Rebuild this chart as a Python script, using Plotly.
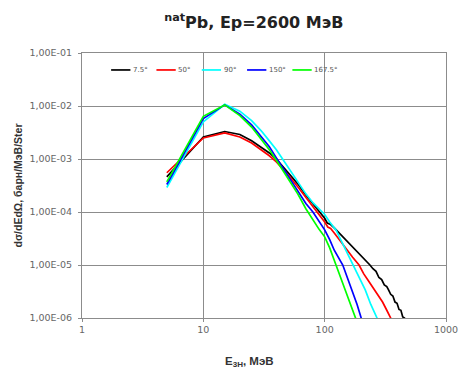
import plotly.graph_objects as go

# Energy spectra of 3H from natPb, Ep = 2600 MeV, at five emission angles
angle_labels = ["7.5°", "50°", "90°", "150°", "167.5°"]
line_colors = ["#000000", "#ff0000", "#00ffff", "#0000ff", "#00ff00"]

e_7_5 = [5, 10, 15, 20, 25, 30, 35, 40, 50, 60, 70, 80, 90, 100, 105, 112, 120, 135, 150,
         165, 180, 200, 218, 236, 250, 265, 280, 295, 310, 325, 336, 350, 365, 380, 395,
         410, 425, 440, 455, 470]
y_7_5 = [4.6e-4, 2.6e-3, 3.3e-3, 2.9e-3, 2.2e-3, 1.65e-3, 1.3e-3, 1.0e-3, 5.6e-4, 3.4e-4,
         2.1e-4, 1.45e-4, 1.0e-4, 7.6e-5, 6.2e-5, 5.8e-5, 5.0e-5, 3.8e-5, 2.9e-5,
         2.3e-5, 1.9e-5, 1.5e-5, 1.25e-5, 1.0e-5, 8.5e-6, 7.6e-6, 5.8e-6, 5.3e-6, 4.2e-6,
         3.9e-6, 3.4e-6, 2.8e-6, 2.6e-6, 2.0e-6, 1.9e-6, 1.45e-6, 1.4e-6, 1.05e-6, 1.0e-6, 7e-7]

e_50 = [5, 10, 15, 20, 25, 30, 35, 40, 50, 60, 70, 80, 90, 100, 106, 112, 120, 135, 150,
        170, 192, 210, 230, 259, 280, 300, 325, 350, 370]
y_50 = [5.5e-4, 2.5e-3, 3.1e-3, 2.6e-3, 2.0e-3, 1.5e-3, 1.15e-3, 8.8e-4, 5.0e-4, 3.0e-4,
        1.9e-4, 1.3e-4, 9.0e-5, 6.5e-5, 5.2e-5, 4.9e-5, 4.0e-5, 2.8e-5, 2.0e-5,
        1.4e-5, 1.0e-5, 6.8e-6, 5.0e-6, 3.4e-6, 2.6e-6, 2.0e-6, 1.4e-6, 1.0e-6, 7e-7]

e_90 = [5, 10, 15, 20, 25, 30, 35, 40, 45, 50, 60, 70, 80, 90, 100, 110, 124, 140, 155,
        173, 195, 216, 240, 270, 290]
y_90 = [2.9e-4, 5.0e-3, 1.08e-2, 8.0e-3, 5.3e-3, 3.4e-3, 2.2e-3, 1.5e-3, 1.0e-3, 7.0e-4,
        3.6e-4, 2.2e-4, 1.5e-4, 1.15e-4, 9.0e-5, 6.5e-5, 4.6e-5, 2.6e-5, 1.6e-5,
        1.0e-5, 5.5e-6, 3.4e-6, 1.8e-6, 1.0e-6, 6e-7]

e_150 = [5, 10, 15, 20, 25, 30, 35, 40, 50, 60, 70, 80, 90, 100, 110, 120, 141, 155, 167,
         185, 200, 215]
y_150 = [3.3e-4, 5.8e-3, 1.05e-2, 7.0e-3, 4.4e-3, 2.7e-3, 1.7e-3, 1.05e-3, 4.8e-4, 2.5e-4,
         1.45e-4, 1.0e-4, 6.5e-5, 4.6e-5, 3.0e-5, 1.9e-5, 1.0e-5, 5.5e-6, 3.4e-6,
         1.8e-6, 1.0e-6, 6e-7]

e_167_5 = [5, 10, 15, 20, 25, 30, 35, 40, 50, 60, 70, 80, 90, 100, 110, 124, 135, 149,
           165, 182, 195]
y_167_5 = [3.7e-4, 6.4e-3, 1.05e-2, 6.6e-3, 4.0e-3, 2.4e-3, 1.5e-3, 9.5e-4, 4.2e-4, 2.2e-4,
           1.15e-4, 7.0e-5, 4.7e-5, 3.4e-5, 2.1e-5, 1.0e-5, 6.0e-6, 3.4e-6,
           1.8e-6, 1.0e-6, 6e-7]

series_e = [e_7_5, e_50, e_90, e_150, e_167_5]
series_y = [y_7_5, y_50, y_90, y_150, y_167_5]

y_tick_vals = [1e-6, 1e-5, 1e-4, 1e-3, 1e-2, 1e-1]
y_tick_text = ["1,00E-06", "1,00E-05", "1,00E-04", "1,00E-03", "1,00E-02", "1,00E-01"]
x_tick_vals = [1, 10, 100, 1000]
x_tick_text = ["1", "10", "100", "1000"]

wide_font = "DejaVu Sans, Verdana, sans-serif"
fig = go.Figure()
for name, color, xs, ys in zip(angle_labels, line_colors, series_e, series_y):
    fig.add_trace(go.Scatter(x=xs, y=ys, mode="lines", name=name, showlegend=False,
                             line=dict(color=color, width=1.7)))

# Compact one-row key across the top of the plot area (paper coordinates)
key_x0, key_step, key_len, key_y = 0.08, 0.1245, 0.053, 0.936
for i, (name, color) in enumerate(zip(angle_labels, line_colors)):
    x0 = key_x0 + i * key_step
    fig.add_shape(type="line", xref="paper", yref="paper",
                  x0=x0, x1=x0 + key_len, y0=key_y, y1=key_y,
                  line=dict(color=color, width=1.7))
    fig.add_annotation(xref="paper", yref="paper", x=x0 + key_len + 0.002, y=key_y,
                       text=name, showarrow=False, xanchor="left", yanchor="middle",
                       font=dict(family=wide_font, size=7, color="#555555"))

# x-axis caption
fig.add_annotation(xref="paper", yref="paper", x=0.46, y=-0.166,
                   text="<b>E<sub>3H</sub>, МэВ</b>", showarrow=False,
                   xanchor="center", yanchor="middle",
                   font=dict(size=11.5, color="#333333"))

grid_color = "#8c8c8c"
fig.update_layout(
    width=470, height=372,
    margin=dict(l=82, r=14, t=53, b=54),
    paper_bgcolor="white", plot_bgcolor="white",
    font=dict(family="Arial, Liberation Sans, sans-serif", color="#333333"),
    title=dict(text="<b><sup>nat</sup>Pb, Ep=2600 МэВ</b>", x=0.54, xanchor="center",
               y=0.94, yanchor="middle",
               font=dict(family=wide_font, size=16, color="#222222")),
    xaxis=dict(type="log", range=[0, 3], tickvals=x_tick_vals, ticktext=x_tick_text,
               showgrid=True, gridcolor=grid_color, gridwidth=1,
               showline=True, linecolor=grid_color, linewidth=1, mirror=True,
               ticks="outside", ticklen=3, tickcolor=grid_color,
               ticklabeloverflow="allow",
               tickfont=dict(family=wide_font, size=9.5, color="#666666"), zeroline=False),
    yaxis=dict(type="log", range=[-6, -1], tickvals=y_tick_vals, ticktext=y_tick_text,
               showgrid=True, gridcolor=grid_color, gridwidth=1,
               showline=True, linecolor=grid_color, linewidth=1, mirror=True,
               ticks="outside", ticklen=3, tickcolor=grid_color,
               ticklabelstandoff=4,
               tickfont=dict(family=wide_font, size=9.5, color="#666666"), zeroline=False,
               title=dict(text="<b>dσ/dEdΩ, барн/МэВ/Ster</b>", standoff=4,
                          font=dict(size=10.5, color="#333333"))),
)

fig.write_html("out.html")
